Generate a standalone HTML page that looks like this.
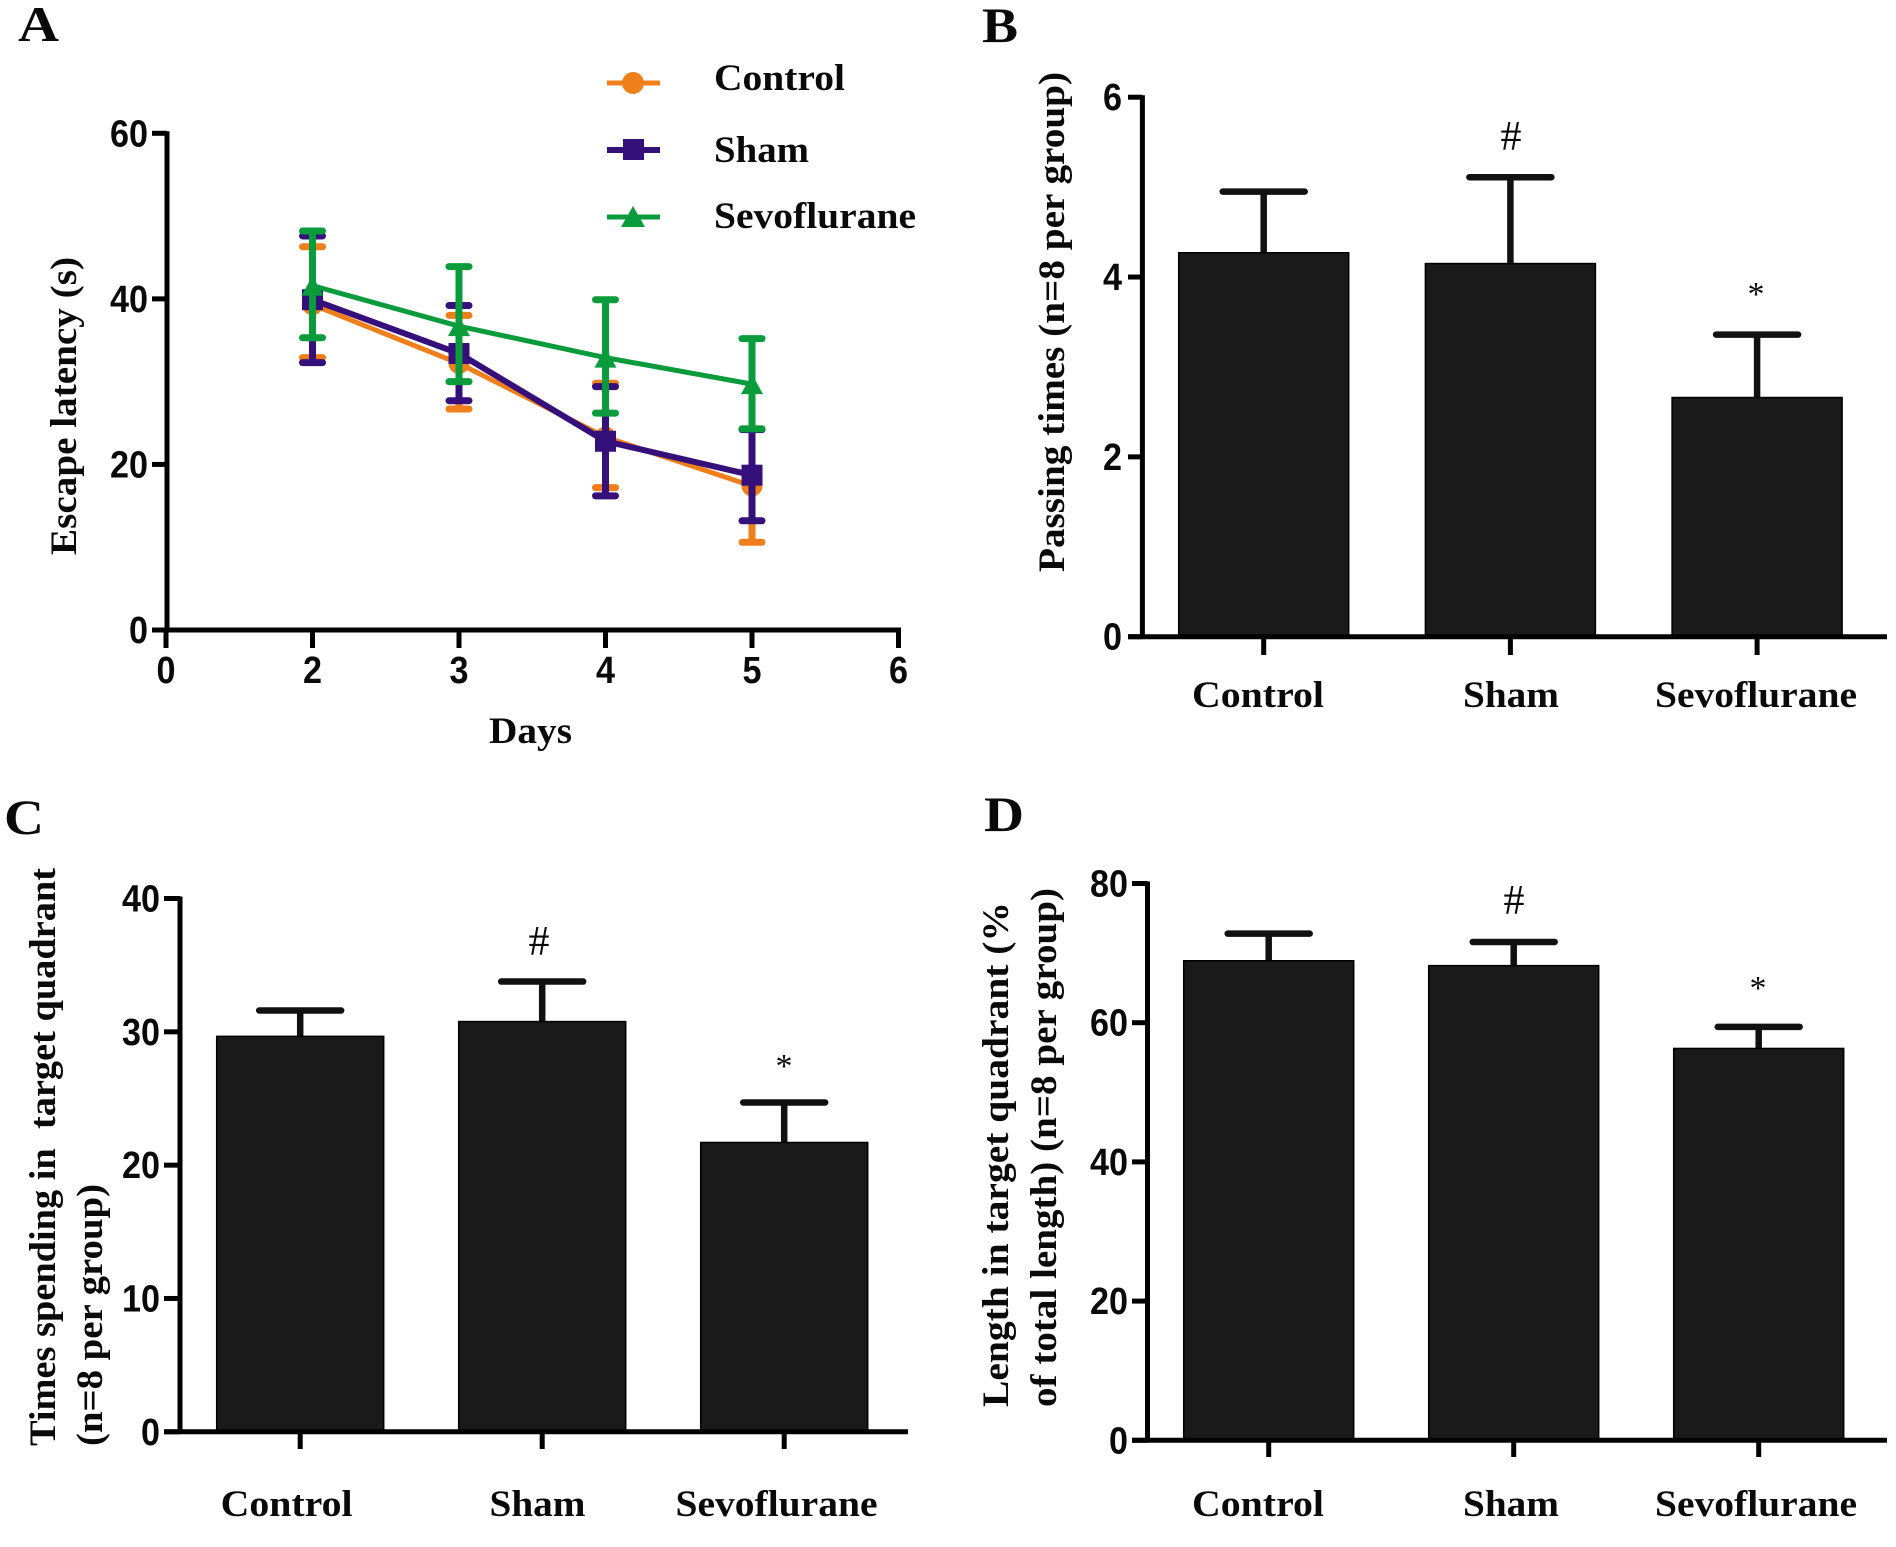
<!DOCTYPE html>
<html lang="en">
<head>
<meta charset="utf-8">
<title>Behavioral test results</title>
<style>
html,body{margin:0;padding:0;background:#fff;}
svg{display:block;}
.st{font-family:"Liberation Serif",serif;font-weight:700;fill:#0a0a0a;}
.tk{font-family:"Liberation Sans",sans-serif;font-weight:700;fill:#0a0a0a;}
</style>
</head>
<body>
<svg id="figure" xmlns="http://www.w3.org/2000/svg" width="1896" height="1547" viewBox="0 0 1896 1547">
  <rect width="1896" height="1547" fill="#ffffff"/>

  <text class="st" x="18" y="41" font-size="50" textLength="41" lengthAdjust="spacingAndGlyphs">A</text>
  <text class="st" x="982" y="42" font-size="50" textLength="36" lengthAdjust="spacingAndGlyphs">B</text>
  <text class="st" x="4" y="834" font-size="50" textLength="40" lengthAdjust="spacingAndGlyphs">C</text>
  <text class="st" x="984" y="831" font-size="50" textLength="40" lengthAdjust="spacingAndGlyphs">D</text>

  <text class="st" font-size="37" textLength="298" lengthAdjust="spacingAndGlyphs" transform="translate(76,555) rotate(-90)">Escape latency (s)</text>
  <text class="st" x="489" y="743" font-size="37" textLength="83" lengthAdjust="spacingAndGlyphs">Days</text>
  <text class="st" font-size="37" textLength="500" lengthAdjust="spacingAndGlyphs" transform="translate(1064,572) rotate(-90)">Passing times (n=8 per group)</text>
  <text class="st" font-size="37" textLength="578" lengthAdjust="spacingAndGlyphs" xml:space="preserve" style="white-space:pre" transform="translate(55,1446) rotate(-90)">Times spending in  target quadrant</text>
  <text class="st" font-size="37" textLength="262" lengthAdjust="spacingAndGlyphs" transform="translate(102,1446) rotate(-90)">(n=8 per group)</text>
  <text class="st" font-size="37" textLength="505" lengthAdjust="spacingAndGlyphs" transform="translate(1008,1407) rotate(-90)">Length in target quadrant (%</text>
  <text class="st" font-size="37" textLength="519" lengthAdjust="spacingAndGlyphs" transform="translate(1056,1407) rotate(-90)">of total length) (n=8 per group)</text>

  <g>
    <g>
      <line x1="607" x2="660" y1="83" y2="83" stroke="#ee7f1a" stroke-width="5"/>
      <circle cx="633" cy="83" r="11" fill="#ee7f1a"/>
      <text class="st" x="714" y="90" font-size="37" textLength="131" lengthAdjust="spacingAndGlyphs">Control</text>
    </g>
    <g>
      <line x1="607" x2="660" y1="150" y2="150" stroke="#35107a" stroke-width="6"/>
      <rect x="623" y="139" width="21" height="21" fill="#35107a"/>
      <text class="st" x="714" y="162" font-size="37" textLength="95" lengthAdjust="spacingAndGlyphs">Sham</text>
    </g>
    <g>
      <line x1="607" x2="660" y1="217" y2="217" stroke="#0a9b3c" stroke-width="5"/>
      <polygon points="633,206 645,227 621,227" fill="#0a9b3c"/>
      <text class="st" x="714" y="228" font-size="37" textLength="202" lengthAdjust="spacingAndGlyphs">Sevoflurane</text>
    </g>
  </g>

  <text class="st" x="1511" y="150" font-size="42" text-anchor="middle" style="font-weight:400">#</text>
  <text class="st" x="1756" y="305" font-size="34" text-anchor="middle" style="font-weight:400">*</text>
  <text class="st" x="539" y="955" font-size="42" text-anchor="middle" style="font-weight:400">#</text>
  <text class="st" x="784" y="1077" font-size="34" text-anchor="middle" style="font-weight:400">*</text>
  <text class="st" x="1514" y="914" font-size="42" text-anchor="middle" style="font-weight:400">#</text>
  <text class="st" x="1758" y="999" font-size="34" text-anchor="middle" style="font-weight:400">*</text>
</svg>
<script>
// Panel A data
const daysTickLabels = ["0", "2", "3", "4", "5", "6"];
const days = ["2", "3", "4", "5"];
const latencyTicks = [0, 20, 40, 60];
const controlMean = [39.3, 32.2, 23.3, 17.4];
const controlUpper = [46.3, 38.0, 29.8, 24.3];
const controlLower = [32.9, 26.7, 17.2, 10.6];
const shamMean = [39.9, 33.4, 22.8, 18.7];
const shamUpper = [47.6, 39.2, 29.4, 24.2];
const shamLower = [32.3, 27.7, 16.2, 13.2];
const sevoMean = [41.6, 36.7, 32.9, 29.7];
const sevoUpper = [48.2, 43.9, 39.9, 35.2];
const sevoLower = [35.3, 30.0, 26.2, 24.3];

// Bar panels data
const groups = ["Control", "Sham", "Sevoflurane"];
const passingMeans = [4.27, 4.15, 2.66];
const passingUpper = [4.95, 5.11, 3.36];
const passingTicks = [0, 2, 4, 6];
const timeMeans = [29.66, 30.77, 21.7];
const timeUpper = [31.6, 33.77, 24.7];
const timeTicks = [0, 10, 20, 30, 40];
const lengthMeans = [68.9, 68.2, 56.3];
const lengthUpper = [72.8, 71.6, 59.4];
const lengthTicks = [0, 20, 40, 60, 80];

const NS = "http://www.w3.org/2000/svg";
const fig = document.getElementById("figure");
function add(tag, attrs, text) {
  const n = document.createElementNS(NS, tag);
  for (const k in attrs) n.setAttribute(k, attrs[k]);
  if (text !== undefined) n.textContent = text;
  fig.appendChild(n);
  return n;
}
function scaleLinear(d0, d1, r0, r1) {
  return v => r0 + (v - d0) * (r1 - r0) / (d1 - d0);
}
let el;

function yAxis(tag, ticks, y, axisX, tickLeft, labelRight, fontSize, labelW) {
  el = add("line", {x1: axisX, x2: axisX, y1: y(ticks[ticks.length - 1]) - 2, y2: y(ticks[0]) + 2, stroke: "#000", "stroke-width": 5});
  
  
  ticks.forEach(t => {
    el = add("line", {x1: tickLeft, x2: axisX, y1: y(t), y2: y(t), stroke: "#000", "stroke-width": 5});
    
    
    const s = String(t);
    el = add("text", {class: "tk", x: labelRight, y: y(t) + 13, "font-size": fontSize, "text-anchor": "end", textLength: labelW * s.length, lengthAdjust: "spacingAndGlyphs"}, s);
    
    
  });
}

// Panel A
const yA = scaleLinear(0, 60, 630, 133.3);
const xIndexA = scaleLinear(0, 5, 166, 898.5);
const xA = day => xIndexA(daysTickLabels.indexOf(day));
yAxis("a", latencyTicks, yA, 167, 152, 148, 38, 19);
el = add("line", {x1: 152, x2: 901, y1: yA(0), y2: yA(0), stroke: "#000", "stroke-width": 5});


daysTickLabels.forEach((d, i) => {
  const x = xIndexA(i);
  el = add("line", {x1: x, x2: x, y1: yA(0), y2: 648, stroke: "#000", "stroke-width": 5});
  
  
  el = add("text", {class: "tk", x: x, y: 683, "font-size": 38, "text-anchor": "middle", textLength: 19, lengthAdjust: "spacingAndGlyphs"}, d);
  
  
});

function drawSeries(name, color, mean, upper, lower, lineW, marker) {
  el = add("polyline", {points: days.map((d, i) => xA(d) + "," + yA(mean[i])).join(" "), fill: "none", stroke: color, "stroke-width": lineW});
  
  
  days.forEach((d, i) => {
    const x = xA(d);
    el = add("line", {x1: x, x2: x, y1: yA(upper[i]), y2: yA(lower[i]), stroke: color, "stroke-width": 7});
    
    
    el = add("line", {x1: x - 10, x2: x + 10, y1: yA(upper[i]), y2: yA(upper[i]), stroke: color, "stroke-width": 7, "stroke-linecap": "round"});
    
    
    el = add("line", {x1: x - 10, x2: x + 10, y1: yA(lower[i]), y2: yA(lower[i]), stroke: color, "stroke-width": 7, "stroke-linecap": "round"});
    
    
    const my = yA(mean[i]);
    if (marker === "circle") el = add("circle", {cx: x, cy: my, r: 10.5, fill: color});
    if (marker === "square") el = add("rect", {x: x - 10.5, y: my - 10.5, width: 21, height: 21, fill: color});
    if (marker === "triangle") el = add("polygon", {points: x + "," + (my - 10) + " " + (x + 11) + "," + (my + 10) + " " + (x - 11) + "," + (my + 10), fill: color});
    
    
  });
}
drawSeries("control", "#ee7f1a", controlMean, controlUpper, controlLower, 5, "circle");
drawSeries("sham", "#35107a", shamMean, shamUpper, shamLower, 6, "square");
drawSeries("sevoflurane", "#0a9b3c", sevoMean, sevoUpper, sevoLower, 5, "triangle");

// Bar panels
const groupLabelWidths = {Control: 132, Sham: 96, Sevoflurane: 202};
function barPanel(tag, means, upper, ticks, o) {
  const y = scaleLinear(ticks[0], ticks[ticks.length - 1], o.y0, o.yTop);
  groups.forEach((g, i) => {
    const cx = o.first + o.step * i;
    const key = g.toLowerCase();
    el = add("line", {x1: cx, x2: cx, y1: y(means[i]), y2: y(upper[i]), stroke: "#111", "stroke-width": 6.5});
    
    
    el = add("line", {x1: cx - 41, x2: cx + 41, y1: y(upper[i]), y2: y(upper[i]), stroke: "#111", "stroke-width": 6.5, "stroke-linecap": "round"});
    
    
    el = add("rect", {x: cx - o.barW / 2, y: y(means[i]), width: o.barW, height: y(0) - y(means[i]), fill: "#1a1a1a", stroke: "#000", "stroke-width": 1.5});
    
    
    el = add("line", {x1: cx, x2: cx, y1: y(0), y2: o.tickEnd, stroke: "#000", "stroke-width": 5});
    
    
    el = add("text", {class: "st", x: o.labelX[i], y: o.labelY, "font-size": 37, "text-anchor": "middle", textLength: groupLabelWidths[g], lengthAdjust: "spacingAndGlyphs"}, g);
    
    
  });
  el = add("line", {x1: o.tickLeft, x2: o.right, y1: y(0), y2: y(0), stroke: "#000", "stroke-width": 5});
  
  
  yAxis(tag, ticks, y, o.axisX, o.tickLeft, o.labelRight, 38, 19);
}
barPanel("b", passingMeans, passingUpper, passingTicks, {y0: 636.7, yTop: 97.2, first: 1263.7, step: 246.7, barW: 170, tickEnd: 655, axisX: 1142.4, tickLeft: 1128, right: 1887, labelRight: 1122, labelX: [1258, 1511, 1756], labelY: 707});
barPanel("c", timeMeans, timeUpper, timeTicks, {y0: 1431.8, yTop: 898.5, first: 300.2, step: 242, barW: 167, tickEnd: 1449, axisX: 180, tickLeft: 164, right: 908, labelRight: 160, labelX: [286.6, 537.5, 776.5], labelY: 1516});
barPanel("d", lengthMeans, lengthUpper, lengthTicks, {y0: 1440.3, yTop: 883.5, first: 1268.7, step: 245, barW: 170, tickEnd: 1457, axisX: 1147.5, tickLeft: 1132, right: 1887, labelRight: 1128, labelX: [1258, 1511, 1756], labelY: 1516});
</script>
</body>
</html>
